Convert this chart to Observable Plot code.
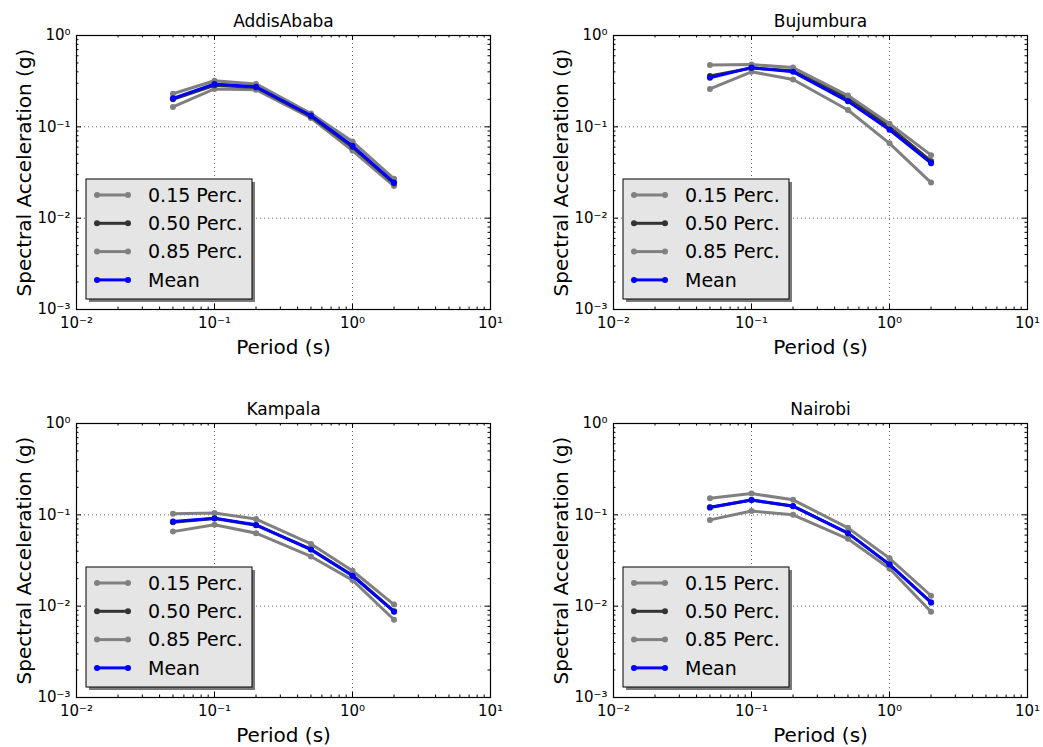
<!DOCTYPE html>
<html><head><meta charset="utf-8">
<script src="https://cdn.jsdelivr.net/npm/d3@7"></script>
<script src="https://cdn.jsdelivr.net/npm/@observablehq/plot@0.6"></script>
<style>body{margin:0;background:#fff;}</style>
</head><body>
<div id="chart"></div>
<script>
// ---- data ----
const periods = [0.05, 0.1, 0.2, 0.5, 1, 2];
const seriesNames = ["0.15 Perc.", "0.50 Perc.", "0.85 Perc.", "Mean"];
const seriesColors = ["#808080", "#333333", "#808080", "#0000ff"];

const addisP15  = [0.165, 0.26, 0.255, 0.125, 0.055, 0.0225];
const addisP50  = [0.20, 0.285, 0.27, 0.13, 0.060, 0.024];
const addisP85  = [0.23, 0.32, 0.295, 0.14, 0.069, 0.027];
const addisMean = [0.205, 0.295, 0.275, 0.133, 0.062, 0.0245];

const bujP15  = [0.26, 0.40, 0.33, 0.153, 0.066, 0.0245];
const bujP50  = [0.36, 0.44, 0.41, 0.205, 0.10, 0.042];
const bujP85  = [0.475, 0.48, 0.445, 0.22, 0.108, 0.049];
const bujMean = [0.345, 0.445, 0.40, 0.19, 0.093, 0.040];

const kamP15  = [0.0655, 0.078, 0.063, 0.035, 0.0193, 0.0071];
const kamP50  = [0.083, 0.091, 0.077, 0.042, 0.0218, 0.0088];
const kamP85  = [0.1025, 0.105, 0.090, 0.048, 0.0244, 0.0104];
const kamMean = [0.0845, 0.092, 0.0776, 0.0416, 0.0215, 0.0087];

const naiP15  = [0.088, 0.11, 0.10, 0.0547, 0.0258, 0.0087];
const naiP50  = [0.12, 0.145, 0.124, 0.063, 0.0285, 0.011];
const naiP85  = [0.152, 0.171, 0.146, 0.072, 0.0334, 0.013];
const naiMean = [0.121, 0.145, 0.125, 0.063, 0.0287, 0.011];

const cityNames = ["AddisAbaba", "Bujumbura", "Kampala", "Nairobi"];

const xTickValues = [0.01, 0.1, 1, 10];
const xTickLabels = ["10\u207B\u00B2", "10\u207B\u00B9", "10\u2070", "10\u00B9"];
const yTickValues = [0.001, 0.01, 0.1, 1];
const yTickLabels = ["10\u207B\u00B3", "10\u207B\u00B2", "10\u207B\u00B9", "10\u2070"];

// ---- layout ----
const W = 520, H = 369, ML = 76, MR = 30, MT = 35, MB = 60;
const FW = W - ML - MR, FH = H - MT - MB;
const offsets = [[0, 0], [537, 0], [0, 388], [537, 388]];

const minorX = d3.scaleLog().domain([0.01, 10]).ticks().filter(t => !xTickValues.some(v => Math.abs(v - t) / t < 1e-9));
const minorY = d3.scaleLog().domain([0.001, 1]).ticks().filter(t => !yTickValues.some(v => Math.abs(v - t) / t < 1e-9));

function panel(title, series) {
  const rows = [];
  series.forEach((vals, i) => periods.forEach((p, j) => rows.push({series: seriesNames[i], idx: i, period: p, sa: vals[j]})));
  const marks = [
    Plot.ruleX(xTickValues, {x: d => d, stroke: "#000", strokeOpacity: 0.6, strokeDasharray: "1,3"}),
    Plot.ruleY(yTickValues, {y: d => d, stroke: "#000", strokeOpacity: 0.6, strokeDasharray: "1,3"}),
    // inward ticks on all four sides
    Plot.ruleX(xTickValues, {x: d => d, insetTop: FH - 5, stroke: "#000"}),
    Plot.ruleX(xTickValues, {x: d => d, insetBottom: FH - 5, stroke: "#000"}),
    Plot.ruleX(minorX, {x: d => d, insetTop: FH - 2.5, stroke: "#000"}),
    Plot.ruleX(minorX, {x: d => d, insetBottom: FH - 2.5, stroke: "#000"}),
    Plot.ruleY(yTickValues, {y: d => d, insetRight: FW - 5, stroke: "#000"}),
    Plot.ruleY(yTickValues, {y: d => d, insetLeft: FW - 5, stroke: "#000"}),
    Plot.ruleY(minorY, {y: d => d, insetRight: FW - 2.5, stroke: "#000"}),
    Plot.ruleY(minorY, {y: d => d, insetLeft: FW - 2.5, stroke: "#000"}),
  ];
  seriesNames.forEach((name, i) => {
    const d = rows.filter(r => r.idx === i);
    marks.push(Plot.line(d, {x: "period", y: "sa", stroke: seriesColors[i], strokeWidth: 3}));
    marks.push(Plot.dot(d, {x: "period", y: "sa", fill: seriesColors[i], r: 3}));
  });
  marks.push(Plot.frame({stroke: "#000", strokeWidth: 1.2}));
  marks.push(Plot.text([title], {text: d => d, frameAnchor: "top", lineAnchor: "middle", dy: -14, fontSize: 17, fill: "#000"}));
  marks.push(Plot.text(["Period (s)"], {text: d => d, frameAnchor: "bottom", lineAnchor: "middle", dy: 38, fontSize: 20, fill: "#000"}));
  marks.push(Plot.text(["Spectral Acceleration (g)"], {text: d => d, frameAnchor: "left", textAnchor: "middle", lineAnchor: "middle", rotate: -90, dx: -52, fontSize: 20, fill: "#000"}));

  const svg = Plot.plot({
    width: W, height: H,
    marginLeft: ML, marginRight: MR, marginTop: MT, marginBottom: MB,
    style: {fontFamily: "DejaVu Sans", fontSize: "15px", background: "transparent", overflow: "visible", color: "#000"},
    x: {type: "log", domain: [0.01, 10], ticks: xTickValues, tickFormat: d => xTickLabels[xTickValues.indexOf(d)], tickSize: 0, tickPadding: 8, label: null},
    y: {type: "log", domain: [0.001, 1], ticks: yTickValues, tickFormat: d => yTickLabels[yTickValues.indexOf(d)], tickSize: 0, tickPadding: 6, label: null},
    marks
  });

  // legend (matplotlib style box with shadow)
  const lg = d3.select(svg).append("g").attr("transform", `translate(${ML + 10},${MT + 144})`)
    .attr("font-family", "DejaVu Sans").attr("text-anchor", "start");
  lg.append("rect").attr("x", 3).attr("y", 3).attr("width", 166).attr("height", 120).attr("fill", "#7a7a7a");
  lg.append("rect").attr("width", 166).attr("height", 120).attr("fill", "#e5e5e5").attr("stroke", "#000").attr("stroke-width", 1);
  seriesNames.forEach((name, i) => {
    const yy = 16 + i * 28.3;
    lg.append("line").attr("x1", 11).attr("x2", 42).attr("y1", yy).attr("y2", yy)
      .attr("stroke", seriesColors[i]).attr("stroke-width", 3);
    [11, 42].forEach(cx => lg.append("circle").attr("cx", cx).attr("cy", yy).attr("r", 3).attr("fill", seriesColors[i]));
    lg.append("text").attr("x", 62).attr("y", yy).attr("dy", "0.35em").attr("text-anchor", "start")
      .attr("font-size", 19).attr("fill", "#000").text(name);
  });
  return svg;
}

const outer = d3.select("#chart").append("svg").attr("width", 1043).attr("height", 747)
  .attr("viewBox", "0 0 1043 747").style("display", "block").style("background", "#fff");

const allSeries = [
  [addisP15, addisP50, addisP85, addisMean],
  [bujP15, bujP50, bujP85, bujMean],
  [kamP15, kamP50, kamP85, kamMean],
  [naiP15, naiP50, naiP85, naiMean]
];

cityNames.forEach((name, k) => {
  const s = panel(name, allSeries[k]);
  s.setAttribute("x", offsets[k][0]);
  s.setAttribute("y", offsets[k][1]);
  s.setAttribute("width", W);
  s.setAttribute("height", H);
  s.style.width = W + "px";
  s.style.height = H + "px";
  s.style.maxWidth = "none";
  outer.node().appendChild(s);
});
</script>
</body></html>
